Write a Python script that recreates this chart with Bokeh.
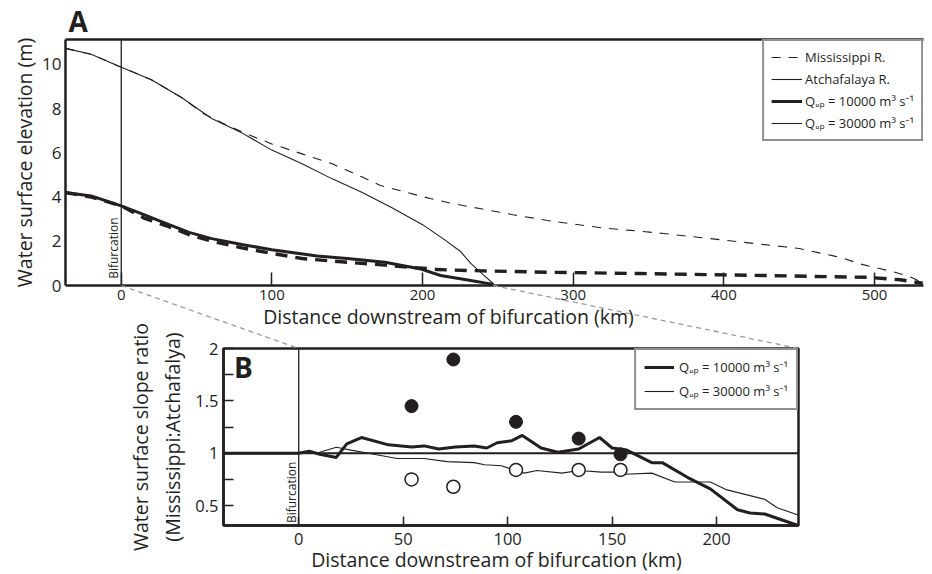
import math
from bokeh.plotting import figure
from bokeh.models import (Range1d, FixedTicker, Span, Label, Legend, LegendItem,
                          LinearAxis, NumeralTickFormatter)
from bokeh.embed import file_html
from bokeh.resources import INLINE

# ---------------- data: panel A (water surface elevation, m) ----------------
miss30_x = [-37, -20, 0, 20, 40, 55, 70, 85, 100, 120, 140, 160, 172, 190, 205, 220, 238, 260,
            283, 300, 320, 338, 360, 384, 400, 420, 440, 450, 465, 472, 480, 490, 500, 510, 517, 525, 532]
miss30_y = [10.72, 10.45, 9.87, 9.3, 8.5, 7.75, 7.25, 6.8, 6.4, 5.95, 5.5, 4.9, 4.52, 4.2, 3.93, 3.7, 3.48, 3.2,
            2.94, 2.78, 2.6, 2.49, 2.35, 2.17, 2.05, 1.9, 1.75, 1.67, 1.45, 1.35, 1.22, 0.98, 0.82, 0.66, 0.53, 0.35, 0.12]

atch30_x = [-37, -20, 0, 20, 40, 60, 80, 100, 120, 140, 160, 180, 200, 215, 225, 232, 240, 247]
atch30_y = [10.72, 10.45, 9.87, 9.3, 8.5, 7.55, 6.9, 6.12, 5.5, 4.82, 4.2, 3.5, 2.75, 2.05, 1.55, 1.0, 0.5, 0.08]

miss10_x = [-37, -20, 0, 15, 30, 45, 60, 80, 100, 120, 150, 175, 190, 205, 210, 240, 283, 344, 400,
            428, 460, 495, 517, 532]
miss10_y = [4.2, 4.0, 3.6, 3.05, 2.7, 2.3, 2.0, 1.7, 1.45, 1.22, 1.05, 0.92, 0.83, 0.76, 0.72, 0.66, 0.6, 0.54, 0.48,
            0.45, 0.41, 0.37, 0.26, 0.1]

atch10_x = [-37, -20, 0, 15, 30, 45, 60, 80, 100, 130, 150, 175, 198, 212, 229, 247]
atch10_y = [4.2, 4.05, 3.6, 3.2, 2.8, 2.4, 2.12, 1.85, 1.62, 1.33, 1.22, 1.05, 0.76, 0.45, 0.26, 0.05]

a_xticks = [0, 100, 200, 300, 400, 500]
a_yticks = [0, 2, 4, 6, 8, 10]

# ---------------- data: panel B (slope ratio Mississippi:Atchafalaya) ----------------
b10_x = [-36, 0, 5, 10, 18, 23, 30, 43, 54, 60, 67, 75, 84, 90, 95, 102, 107, 116, 124, 134, 144, 150,
         157, 169, 174, 186, 197, 210, 216, 223, 239]
b10_y = [1.0, 1.0, 1.02, 0.99, 0.96, 1.09, 1.15, 1.08, 1.06, 1.07, 1.04, 1.06, 1.07, 1.05, 1.1, 1.12, 1.17,
         1.05, 1.01, 1.04, 1.15, 1.05, 1.03, 0.91, 0.91, 0.77, 0.66, 0.46, 0.43, 0.42, 0.31]

b30_x = [-36, 0, 10, 18, 25, 36, 47, 60, 71, 84, 89, 97, 103, 108, 114, 126, 134, 145, 154, 156, 169,
         180, 197, 205, 223, 229, 239]
b30_y = [1.0, 1.0, 1.01, 1.057, 1.03, 0.99, 0.95, 0.95, 0.92, 0.91, 0.89, 0.88, 0.84, 0.81, 0.835, 0.81,
         0.835, 0.82, 0.82, 0.80, 0.81, 0.725, 0.725, 0.65, 0.56, 0.48, 0.41]

obs_x = [54, 74, 104, 134, 154]
obs10_y = [1.45, 1.895, 1.30, 1.14, 0.99]
obs30_y = [0.75, 0.68, 0.84, 0.84, 0.84]

b_xticks = [0, 50, 100, 150, 200]
b_yticks = [0.5, 1, 1.5, 2]
b_yminor = [0.75, 1.25, 1.75]

bifurcation_km = 0
zoom_a_km = (0, 247)          # stretch of panel A that panel B enlarges

LBL10 = "Q\u1d64\u209a = 10000 m\u00b3 s\u207b\u00b9"
LBL30 = "Q\u1d64\u209a = 30000 m\u00b3 s\u207b\u00b9"
XLABEL = "Distance downstream of bifurcation (km)"

# ---------------- style / layout ----------------
FONT = "Open Sans"
INK = "#231f20"
GREY = "#9b9b9b"

A_XR = (-37, 532.5)
A_YR = (0, 11.12)
B_XR = (-36, 239.2)
B_YR = (0.31, 2.0)
# page-pixel geometry (frames and canvases)
A_L, A_R, A_T, A_B = 65, 923, 39, 285
A_TOP, A_BOT = 8, 338
B_L, B_R, B_T, B_B = 223, 798, 348, 525
B_TOP, B_BOT = 300, 572
C_TOP = 0
W = 916


def place(top):
    return {"position": "absolute", "left": "8px", "top": f"{top}px"}


def style_axis(ax, label_size="19.5px", tick_size="16px"):
    ax.axis_label_text_font = FONT
    ax.axis_label_text_font_size = label_size
    ax.axis_label_text_font_style = "normal"
    ax.axis_label_text_color = INK
    ax.major_label_text_font = FONT
    ax.major_label_text_font_size = tick_size
    ax.major_label_text_color = INK
    ax.axis_line_color = INK
    ax.axis_line_width = 2.5
    ax.major_tick_line_color = INK
    ax.major_tick_line_width = 1.5
    ax.minor_tick_line_color = INK
    ax.minor_tick_line_width = 1.5


# ---------------- panel A ----------------
pA = figure(width=W, height=A_BOT - A_TOP, x_range=Range1d(*A_XR), y_range=Range1d(*A_YR),
            output_backend="svg", toolbar_location=None,
            min_border_left=A_L - 8, min_border_right=8 + W - A_R,
            min_border_top=A_T - A_TOP, min_border_bottom=A_BOT - A_B,
            outline_line_color=None, background_fill_color="white", border_fill_color="white",
            styles=place(A_TOP))
pA.grid.visible = False

style_axis(pA.xaxis[0], tick_size="15px")
style_axis(pA.yaxis[0], tick_size="17px")
pA.xaxis.ticker = FixedTicker(ticks=a_xticks)
pA.yaxis.ticker = FixedTicker(ticks=a_yticks)
pA.xaxis.major_tick_in = 13
pA.xaxis.major_tick_out = 0
pA.xaxis.minor_tick_in = 0
pA.xaxis.minor_tick_out = 0
pA.yaxis.major_tick_in = 0
pA.yaxis.major_tick_out = 0
pA.yaxis.minor_tick_in = 0
pA.yaxis.minor_tick_out = 0
pA.xaxis.major_label_standoff = 4
pA.yaxis.major_label_standoff = 4
pA.yaxis.axis_label = "Water surface elevation (m)"
pA.yaxis.axis_label_standoff = 1

top_axis = LinearAxis(ticker=FixedTicker(ticks=[]), bounds=A_XR, major_tick_in=0, major_tick_out=0,
                      minor_tick_in=0, minor_tick_out=0, major_label_text_font_size="0px",
                      major_label_standoff=0, axis_line_color=INK, axis_line_width=2.5)
pA.add_layout(top_axis, "above")

pA.add_layout(Span(location=bifurcation_km, dimension="height", line_color=INK, line_width=1.3))

r_m30 = pA.line(miss30_x, miss30_y, line_color=INK, line_width=1.1, line_dash="9 8")
r_m10 = pA.line(miss10_x, miss10_y, line_color=INK, line_width=3.4, line_dash="12 8")
r_a30 = pA.line(atch30_x, atch30_y, line_color=INK, line_width=1.1)
r_a10 = pA.line(atch10_x, atch10_y, line_color=INK, line_width=3.0)

pA.add_layout(Label(x=bifurcation_km - 4.9, y=0.3, angle=math.pi / 2, text="Bifurcation",
                    text_font=FONT, text_font_size="12px", text_color=INK,
                    text_baseline="middle", text_align="left"))

legA = Legend(items=[LegendItem(label="Mississippi R.", renderers=[r_m30]),
                     LegendItem(label="Atchafalaya R.", renderers=[r_a30]),
                     LegendItem(label=LBL10, renderers=[r_a10]),
                     LegendItem(label=LBL30, renderers=[r_a30])],
              location="top_right", margin=0, padding=7, spacing=4, glyph_width=31,
              glyph_height=18, label_height=18, label_standoff=3,
              label_text_font=FONT, label_text_font_size="13px", label_text_color=INK,
              border_line_color=INK, border_line_width=2, background_fill_color="white",
              background_fill_alpha=1.0)
pA.add_layout(legA)

# ---------------- panel B ----------------
pB = figure(width=W, height=B_BOT - B_TOP, x_range=Range1d(*B_XR), y_range=Range1d(*B_YR),
            output_backend="svg", toolbar_location=None,
            min_border_left=B_L - 8, min_border_right=8 + W - B_R,
            min_border_top=B_T - B_TOP, min_border_bottom=B_BOT - B_B,
            outline_line_color=INK, outline_line_width=2.5,
            background_fill_color="white", border_fill_color="white", border_fill_alpha=0.0,
            styles=place(B_TOP))
pB.grid.visible = False
for ax in (pB.xaxis[0], pB.yaxis[0]):
    style_axis(ax, tick_size="16.5px")
pB.xaxis.ticker = FixedTicker(ticks=b_xticks)
pB.yaxis.ticker = FixedTicker(ticks=b_yticks, minor_ticks=b_yminor)
pB.yaxis.formatter = NumeralTickFormatter(format="0.[0]")
pB.xaxis.major_tick_in = 9
pB.xaxis.major_tick_out = 0
pB.xaxis.minor_tick_in = 0
pB.xaxis.minor_tick_out = 0
pB.yaxis.major_tick_in = 10
pB.yaxis.major_tick_out = 0
pB.yaxis.minor_tick_in = 10
pB.yaxis.minor_tick_out = 0
pB.xaxis.major_label_standoff = 7
pB.yaxis.major_label_standoff = 5
pB.yaxis.axis_label = "Water surface slope ratio\n(Mississippi:Atchafalya)"
pB.yaxis.axis_label_standoff = 6

pB.add_layout(Span(location=1, dimension="width", line_color=INK, line_width=2))
pB.add_layout(Span(location=bifurcation_km, dimension="height", line_color=INK, line_width=1.3))

r_b30 = pB.line(b30_x, b30_y, line_color=INK, line_width=1.1)
r_b10 = pB.line(b10_x, b10_y, line_color=INK, line_width=3.0)
pB.scatter(obs_x, obs10_y, marker="circle", size=13, fill_color=INK, line_color=INK)
pB.scatter(obs_x, obs30_y, marker="circle", size=13, fill_color="white", line_color=INK,
           line_width=1.5)

pB.add_layout(Label(x=bifurcation_km - 3.5, y=0.333, angle=math.pi / 2, text="Bifurcation",
                    text_font=FONT, text_font_size="12px", text_color=INK,
                    text_baseline="middle", text_align="left"))
pB.add_layout(Label(x=-31, y=1.828, text="B", text_font=FONT, text_font_size="28px",
                    text_font_style="bold", text_color=INK, text_baseline="middle",
                    text_align="left"))

legB = Legend(items=[LegendItem(label=LBL10, renderers=[r_b10]),
                     LegendItem(label=LBL30, renderers=[r_b30])],
              location="top_right", margin=0, padding=8, spacing=6, glyph_width=30,
              glyph_height=18, label_height=18, label_standoff=5,
              label_text_font=FONT, label_text_font_size="13px", label_text_color=INK,
              border_line_color=INK, border_line_width=2, background_fill_color="white",
              background_fill_alpha=1.0)
pB.add_layout(legB)


# ---------------- overlay: panel letter, x labels, zoom connectors ----------------
def a_data(px, py):
    return (A_XR[0] + (px - A_L) / (A_R - A_L) * (A_XR[1] - A_XR[0]),
            A_YR[0] + (A_B - py) / (A_B - A_T) * (A_YR[1] - A_YR[0]))


def b_px(x, y):
    return (B_L + (x - B_XR[0]) / (B_XR[1] - B_XR[0]) * (B_R - B_L),
            B_B - (y - B_YR[0]) / (B_YR[1] - B_YR[0]) * (B_B - B_T))


c_x0, c_y1 = a_data(8, C_TOP)
c_x1, c_y0 = a_data(8 + W, B_BOT)
pC = figure(width=W, height=B_BOT - C_TOP, x_range=Range1d(c_x0, c_x1), y_range=Range1d(c_y0, c_y1),
            output_backend="svg", toolbar_location=None, x_axis_location=None,
            y_axis_location=None, min_border=0, outline_line_color=None,
            background_fill_alpha=0.0, border_fill_alpha=0.0, styles=place(C_TOP))
pC.grid.visible = False

for xa, xb in ((zoom_a_km[0], bifurcation_km), (zoom_a_km[1], B_XR[1])):
    end = a_data(*b_px(xb, B_YR[1]))
    pC.line([xa, end[0]], [A_YR[0], end[1]], line_color=GREY, line_width=1.3, line_dash="5 4")

ax_, ay_ = a_data(68, 20.6)
pC.add_layout(Label(x=ax_, y=ay_, text="A", text_font=FONT, text_font_size="28px",
                    text_font_style="bold", text_color=INK, text_baseline="middle",
                    text_align="left"))
for cx, cy in ((448, 316), (496, 559)):
    lx, ly = a_data(cx, cy)
    pC.add_layout(Label(x=lx, y=ly, text=XLABEL, text_font=FONT, text_font_size="19.5px",
                        text_color=INK, text_baseline="middle", text_align="center"))

open("out.html", "w").write(file_html([pA, pB, pC], INLINE))
